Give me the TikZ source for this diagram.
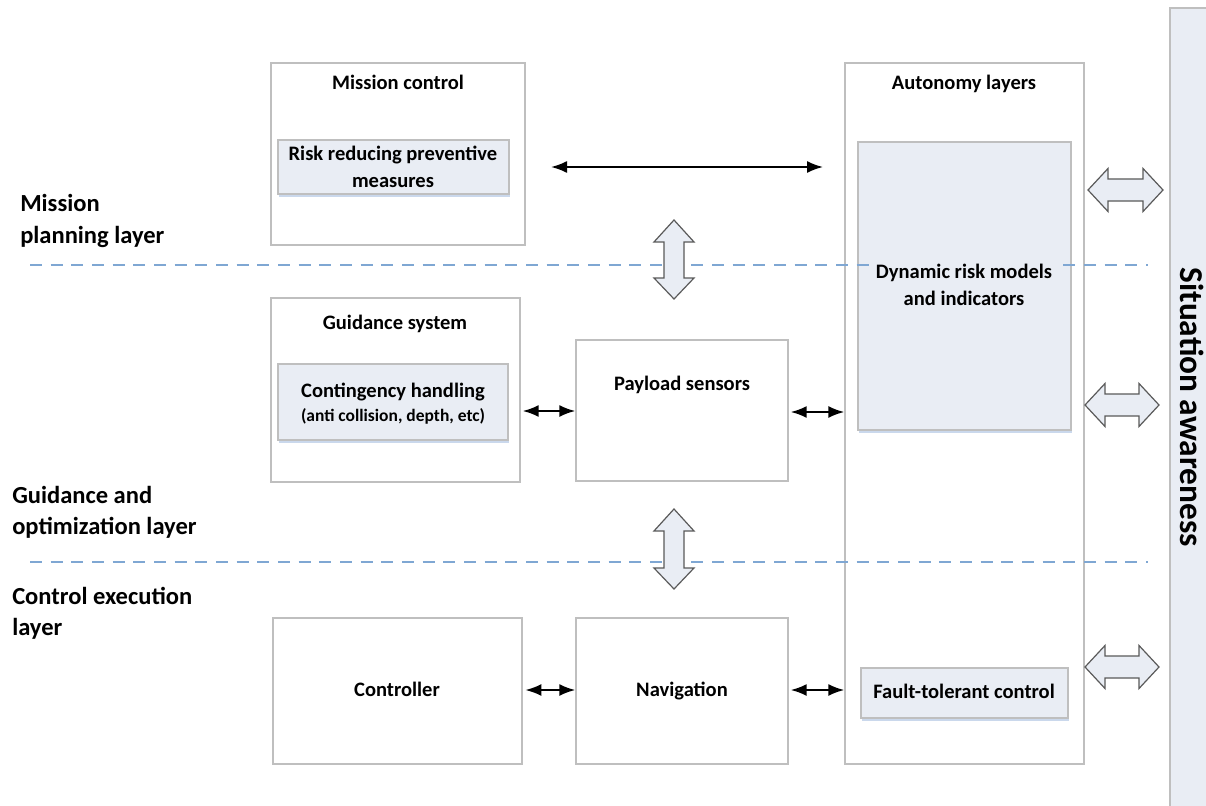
\documentclass[tikz,border=0pt]{standalone}
\usepackage{fontspec}
\setmainfont{Carlito}
\usetikzlibrary{arrows.meta,fit,calc,shadows}

\definecolor{boxgray}{HTML}{BFBFBF}
\definecolor{innerfill}{HTML}{E9EDF4}
\definecolor{shadowblue}{HTML}{CAD8EC}
\definecolor{dashblue}{HTML}{7FA7D3}
\definecolor{arrowedge}{HTML}{5A5A5A}

\newcommand{\boxfont}{\fontsize{15.4}{20.3}\selectfont\bfseries}
\newcommand{\subfont}{\fontsize{13.1}{17}\selectfont\bfseries}
\newcommand{\layerfont}{\fontsize{18.4}{23.3}\selectfont\bfseries}
\newcommand{\safont}{\fontsize{25}{30}\selectfont\bfseries}

\tikzset{
  outerbox/.style={draw=boxgray, line width=1.1pt, inner sep=0pt},
  innerbox/.style={draw=boxgray, line width=1.1pt, fill=innerfill, inner sep=0pt,
    drop shadow={shadow xshift=0.8pt, shadow yshift=-2.2pt, fill=shadowblue, opacity=1}},
  label/.style={font=\boxfont, align=center, inner sep=0pt},
  oneline/.style={label, text height=10pt, text depth=0pt},
  layerlabel/.style={font=\layerfont, align=left, inner sep=0pt, anchor=west},
  layerline/.style={draw=dashblue, line width=1.5pt, dash pattern=on 9pt off 6.5pt},
  thinarrow/.style={{Latex[length=12pt,width=9pt]}-{Latex[length=12pt,width=9pt]}, line width=1.4pt, black},
  blockarrow/.style={draw=arrowedge, fill=innerfill, line width=0.9pt, line join=miter},
}

\newcommand{\vblock}[3]{% cx, top, bottom
  \draw[blockarrow] (#1,#2) -- (#1+20,#2+22) -- (#1+10,#2+22) -- (#1+10,#3-21) -- (#1+20,#3-21)
    -- (#1,#3) -- (#1-20,#3-21) -- (#1-10,#3-21) -- (#1-10,#2+22) -- (#1-20,#2+22) -- cycle;}
\newcommand{\hblock}[3]{% cy, left, right
  \draw[blockarrow] (#2,#1) -- (#2+20,#1-21.5) -- (#2+20,#1-11) -- (#3-20,#1-11) -- (#3-20,#1-21.5)
    -- (#3,#1) -- (#3-20,#1+21.5) -- (#3-20,#1+11) -- (#2+20,#1+11) -- (#2+20,#1+21.5) -- cycle;}

\begin{document}
\begin{tikzpicture}[x=0.75pt,y=-0.75pt]
\useasboundingbox[fill=white] (0,0) rectangle (1206,806);

% situation awareness bar
\node[draw=boxgray, line width=1.1pt, fill=innerfill, inner sep=0pt, fit={(1170,8) (1220,815)}] (sa) {};
\node[font=\safont, rotate=-90, inner sep=0pt] (satext) at (1192,407) {Situation awareness};

% outer boxes
\node[outerbox, fit={(271,63) (525,245)}] (mc) {};
\node[outerbox, fit={(271,298) (520,482)}] (gs) {};
\node[outerbox, fit={(576,340) (788,481)}] (ps) {};
\node[outerbox, fit={(273,618) (522,764)}] (ctl) {};
\node[outerbox, fit={(576,618) (788,764)}] (nav) {};
\node[outerbox, fit={(845,63) (1084,764)}] (al) {};

% inner boxes
\node[innerbox, fit={(278,140) (509,194)}] (rr) {};
\node[innerbox, fit={(278,364) (508,440)}] (ch) {};
\node[innerbox, fit={(858,142) (1071,430)}] (dr) {};
\node[innerbox, fit={(861,668) (1068,718)}] (ft) {};

% layer separators
\draw[layerline] (30,265) -- (1148,265);
\draw[layerline] (30,562) -- (1148,562);

% texts
\node[oneline] (mct) at (398,83) {Mission control};
\node[label] (rrt) at (393,167) {Risk reducing preventive\\measures};
\node[oneline] (gst) at (395,323) {Guidance system};
\node[oneline] (cht) at (393,391) {Contingency handling};
\node[label, font=\subfont] (chs) at (393,416) {(anti collision, depth, etc)};
\node[oneline] (pst) at (682,384) {Payload sensors};
\node[oneline] (ctlt) at (397,690) {Controller};
\node[oneline] (navt) at (682,690) {Navigation};
\node[oneline] (alt) at (964,83) {Autonomy layers};
\node[label, fill=innerfill, inner sep=3pt] (drt) at (964,285) {Dynamic risk models\\and indicators};
\node[oneline] (ftt) at (964,692) {Fault-tolerant control};

% layer labels
\node[layerlabel] (l1) at (20,221) {Mission\\planning layer};
\node[layerlabel] (l2) at (12,512.5) {Guidance and\\optimization layer};
\node[layerlabel] (l3) at (12,613.5) {Control execution\\layer};

% block arrows
\vblock{674}{220}{299}
\vblock{674}{509}{589}
\hblock{190}{1088}{1163}
\hblock{405}{1085}{1159}
\hblock{667}{1085}{1159}

% thin arrows
\coordinate (a1) at (551,167);
\coordinate (a2) at (823,167);
\draw[thinarrow] (a1) -- (a2);
\draw[thinarrow] ([xshift=1.5pt]gs.east |- 0,411) -- (ps.west |- 0,411);
\draw[thinarrow] ([xshift=1.5pt]ps.east |- 0,412) -- (al.west |- 0,412);
\draw[thinarrow] ([xshift=2pt]ctl.east |- 0,690) -- (nav.west |- 0,690);
\draw[thinarrow] ([xshift=1.5pt]nav.east |- 0,690) -- (al.west |- 0,690);
\end{tikzpicture}
\end{document}
